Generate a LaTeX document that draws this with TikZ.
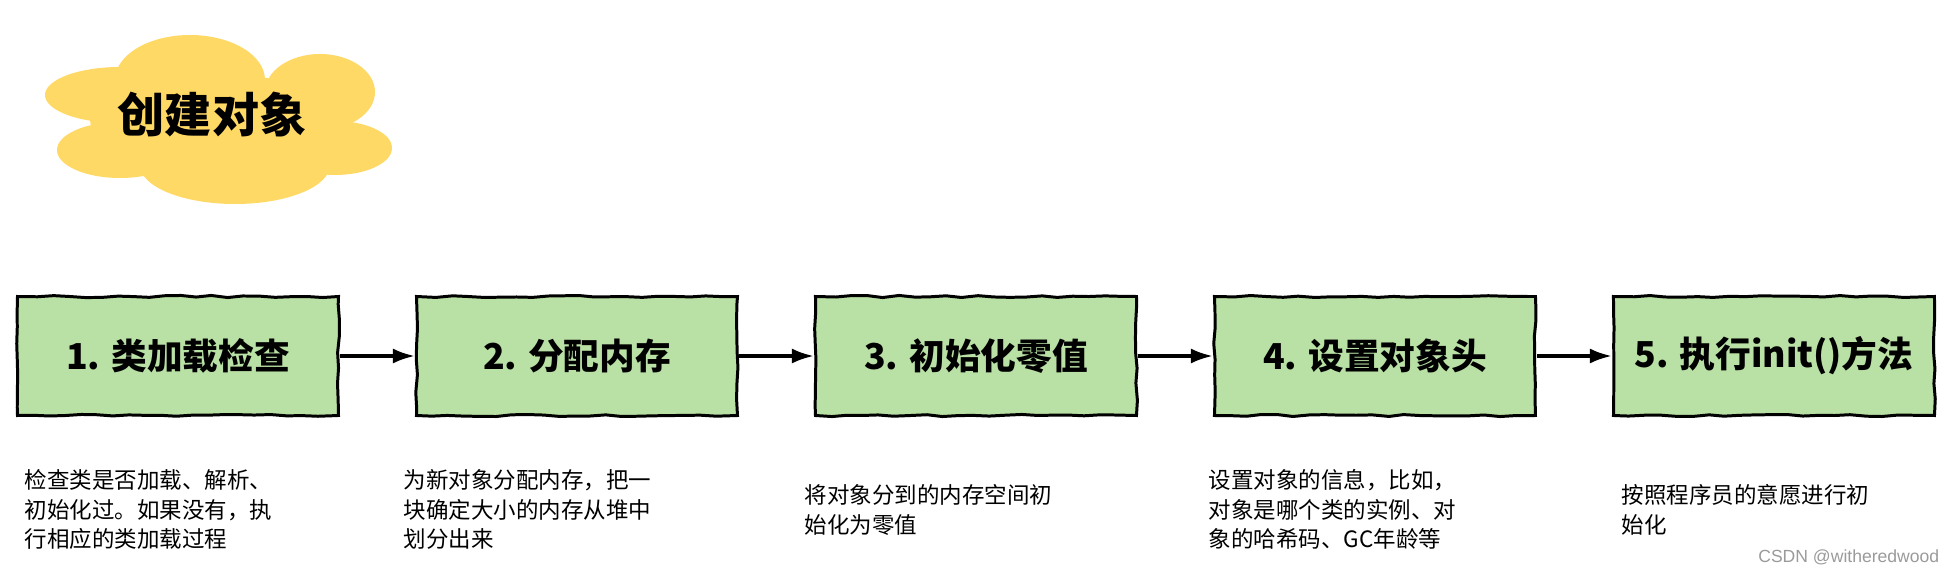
\documentclass[tikz,border=0pt]{standalone}
\usepackage{fontspec}
\setmainfont{Noto Sans CJK SC}
\newfontfamily\markfont{Liberation Sans}
\usetikzlibrary{positioning,arrows.meta,decorations.pathmorphing}
\definecolor{stagegreen}{HTML}{B9E0A5}
\definecolor{cloudyellow}{HTML}{FFD966}
\definecolor{markgray}{HTML}{9A9A9A}

\tikzset{
  stagebox/.style={draw, line width=1.7pt, fill=stagegreen,
    minimum width=6.42cm, minimum height=2.38cm, inner sep=0pt,
    font=\fontsize{20.3}{24}\selectfont\bfseries,
    decorate, decoration={random steps, segment length=9pt, amplitude=0.6pt}},
  notetext/.style={anchor=north west, inner sep=0pt, align=left,
    font=\fontsize{12.8}{16.8}\selectfont},
}
\pgfmathsetseed{7}

\begin{document}
\begin{tikzpicture}[>={Latex[length=4.4mm,width=3mm]},line width=2pt]
\useasboundingbox (0,0) rectangle (39.12,11.48);

% cloud behind the title
\foreach \cx/\cy/\rx/\ry in {2.4/9.58/1.5/0.56, 3.8/9.88/1.5/0.9,
    6.4/9.64/1.1/0.76, 2.4/8.48/1.26/0.56, 4.7/8.18/1.9/0.78,
    6.7/8.52/1.14/0.54, 4.4/9.08/2.6/0.9}
  \fill[cloudyellow] (\cx,\cy) ellipse [x radius=\rx, y radius=\ry];
\node[font=\fontsize{26.8}{30}\selectfont\bfseries] (title) at (4.24,9.18) {创建对象};

% steps
\node[stagebox] (load) at (3.56,4.36) {1. 类加载检查};
\node[stagebox, right=1.5cm of load] (alloc) {2. 分配内存};
\node[stagebox, right=1.5cm of alloc] (zero) {3. 初始化零值};
\node[stagebox, right=1.5cm of zero] (header) {4. 设置对象头};
\node[stagebox, right=1.5cm of header] (init) {5. 执行init()方法};

\draw[->] (load) -- (alloc);
\draw[->] (alloc) -- (zero);
\draw[->] (zero) -- (header);
\draw[->] (header) -- (init);

% notes
\node[notetext] (loadnote) at (0.46,2.12)
  {检查类是否加载、解析、\\初始化过。如果没有，执\\行相应的类加载过程};
\node[notetext] (allocnote) at (8.04,2.12)
  {为新对象分配内存，把一\\块确定大小的内存从堆中\\划分出来};
\node[notetext] (zeronote) at (16.06,1.82)
  {将对象分到的内存空间初\\始化为零值};
\node[notetext] (headernote) at (24.14,2.12)
  {设置对象的信息，比如，\\对象是哪个类的实例、对\\象的哈希码、GC年龄等};
\node[notetext] (initnote) at (32.4,1.82)
  {按照程序员的意愿进行初\\始化};

\node[anchor=east, inner sep=0pt, text=markgray,
  font=\markfont\fontsize{10}{12}\selectfont] (mark) at (38.82,0.34) {CSDN @witheredwood};

\end{tikzpicture}
\end{document}
